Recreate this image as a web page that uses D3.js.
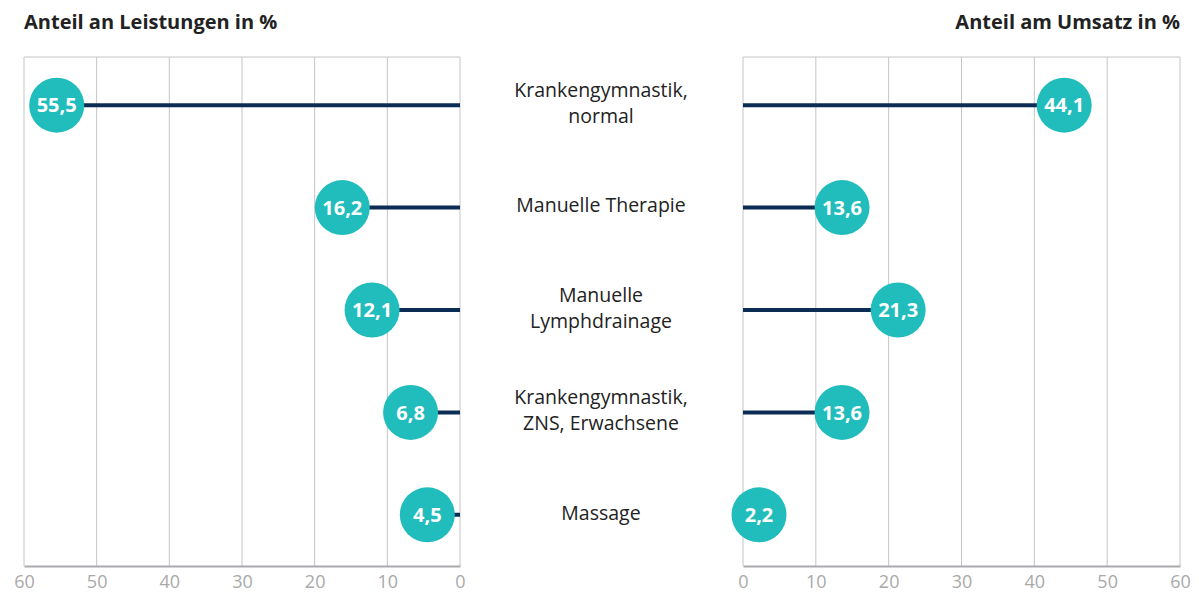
<!DOCTYPE html>
<html>
<head>
<meta charset="utf-8">
<script src="https://cdn.jsdelivr.net/npm/d3@7"></script>
<style>
  body { margin: 0; background: #fff; }
  svg { display: block; font-family: "Open Sans", sans-serif; }
</style>
</head>
<body>
<svg></svg>
<script>
var categories = [
  ["Krankengymnastik,", "normal"],
  ["Manuelle Therapie"],
  ["Manuelle", "Lymphdrainage"],
  ["Krankengymnastik,", "ZNS, Erwachsene"],
  ["Massage"]
]
var leistungen = [55.5, 16.2, 12.1, 6.8, 4.5]
var umsatz = [44.1, 13.6, 21.3, 13.6, 2.2]
var ticks = [0, 10, 20, 30, 40, 50, 60]

var screen = {width: 1199, height: 594}
var plotTop = 57, plotBottom = 566

var svg = d3.select("svg")
  .attr("width", screen.width)
  .attr("height", screen.height)

var yscale = d3.scaleBand()
  .domain(d3.range(categories.length))
  .range([54, plotBottom])

var rowY = function(d, i) { return yscale(i) + yscale.bandwidth() / 2 }
var fmt = function(v) { return String(v).replace(".", ",") }

var drawPanel = function(values, xscale, title, anchor, tx) {
  var g = svg.append("g")

  // gridlines
  g.selectAll("line.grid")
    .data(ticks)
    .enter()
    .append("line")
    .attr("x1", function(d) { return xscale(d) })
    .attr("x2", function(d) { return xscale(d) })
    .attr("y1", plotTop)
    .attr("y2", plotBottom)
    .attr("stroke", "#c4c4c4")
    .attr("stroke-width", 1)

  g.append("line")
    .attr("x1", xscale(0)).attr("x2", xscale(60))
    .attr("y1", plotTop).attr("y2", plotTop)
    .attr("stroke", "#c4c4c4")

  // axis
  var axis = d3.axisBottom(xscale).tickValues(ticks).tickSize(0).tickPadding(9)
  var ax = g.append("g")
    .attr("transform", "translate(0," + plotBottom + ")")
    .call(axis)
  ax.select(".domain").attr("stroke", "#aaaaae").attr("stroke-width", 2)
  ax.selectAll("text")
    .attr("fill", "#a9a9a9")
    .style("font-size", "18px")
    .style("font-family", "'Open Sans', sans-serif")

  // stems
  g.selectAll("line.stem")
    .data(values)
    .enter()
    .append("line")
    .attr("x1", xscale(0))
    .attr("x2", function(d) { return xscale(d) })
    .attr("y1", rowY)
    .attr("y2", rowY)
    .attr("stroke", "#0b2d55")
    .attr("stroke-width", 4)

  // dots
  g.selectAll("circle")
    .data(values)
    .enter()
    .append("circle")
    .attr("cx", function(d) { return xscale(d) })
    .attr("cy", rowY)
    .attr("r", 27.5)
    .attr("fill", "#21bdbd")

  g.selectAll("text.val")
    .data(values)
    .enter()
    .append("text")
    .attr("x", function(d) { return xscale(d) })
    .attr("y", rowY)
    .attr("dy", "0.36em")
    .attr("text-anchor", "middle")
    .attr("fill", "#fff")
    .style("font-size", "20px")
    .style("font-weight", "bold")
    .text(fmt)

  svg.append("text")
    .attr("x", tx)
    .attr("y", 29)
    .attr("text-anchor", anchor)
    .attr("fill", "#222")
    .style("font-size", "20px")
    .style("font-weight", "bold")
    .text(title)
}

var xleft = d3.scaleLinear().domain([0, 60]).range([460, 24])
var xright = d3.scaleLinear().domain([0, 60]).range([743, 1180])

drawPanel(leistungen, xleft, "Anteil an Leistungen in %", "start", 24)
drawPanel(umsatz, xright, "Anteil am Umsatz in %", "end", 1180)

// category labels, one text per line
var lineGap = 26.5
svg.selectAll("g.cat")
  .data(categories)
  .enter()
  .append("g")
  .attr("class", "cat")
  .attr("transform", function(d, i) { return "translate(601," + rowY(d, i) + ")" })
  .each(function(lines) {
    var g = d3.select(this)
    var start = -(lines.length - 1) * lineGap / 2 - 2
    lines.forEach(function(l, j) {
      g.append("text")
        .attr("y", start + j * lineGap)
        .attr("dy", "0.35em")
        .attr("text-anchor", "middle")
        .attr("fill", "#222")
        .style("font-size", "19.5px")
        .text(l)
    })
  })
</script>
</body>
</html>
